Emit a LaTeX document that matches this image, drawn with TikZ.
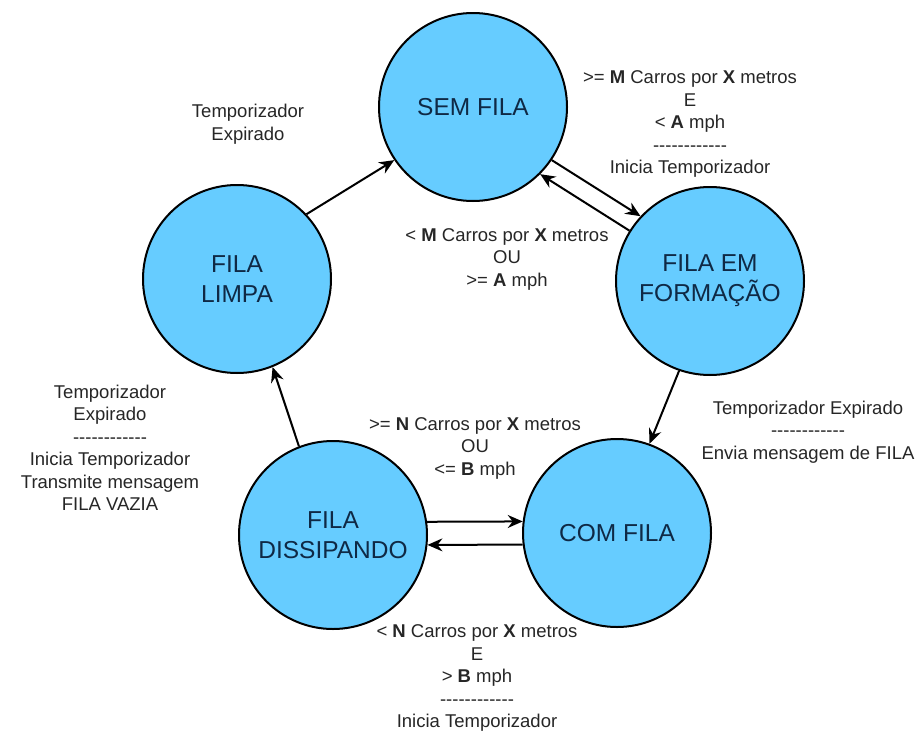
\documentclass[tikz,border=0pt]{standalone}
\usepackage{fontspec}
\setmainfont{Liberation Sans}
\usepackage{tikz}
\usetikzlibrary{arrows.meta, positioning}
\definecolor{SkyBlue}{rgb}{0.4,0.8,1.0}
\definecolor{Navy}{rgb}{0.06,0.16,0.27}
\definecolor{DarkGrey}{rgb}{0.15,0.15,0.15}
\newcommand{\sepline}{-{}-{}-{}-{}-{}-{}-{}-{}-{}-{}-{}-}
\tikzset{
  statebox/.style={circle, draw=black, line width=2pt, fill=SkyBlue,
    minimum size=188pt, inner sep=0pt, text=Navy, align=center,
    font=\fontsize{24.5}{30}\selectfont},
  cond/.style={align=center, text=DarkGrey, inner sep=0pt,
    font=\fontsize{18.5}{22.5}\selectfont},
  trans/.style={line width=2pt, -{Stealth[length=15pt,width=13pt,inset=5pt]}}
}
\begin{document}
\begin{tikzpicture}[x=1pt,y=-1pt]

    \useasboundingbox (0,0) rectangle (921,731);

    % states
    \node[statebox] (sem) at (473,107) {SEM FILA};
    \node[statebox] (formacao) at (710,281) {FILA EM\\FORMAÇÃO};
    \node[statebox] (limpa) at (237,279) {FILA\\LIMPA};
    \node[statebox] (dissipando) at (333,535) {FILA\\DISSIPANDO};
    \node[statebox] (comfila) at (617,533) {COM FILA};

    % transitions
    \draw[trans] (limpa.43) -- (sem.214);
    \draw[trans] (sem.-34) -- (formacao.137);
    \draw[trans] (formacao.148) -- (sem.-45);
    \draw[trans] (formacao.251) -- (comfila.70);
    \draw[trans] (dissipando.8) -- (comfila.173);
    \draw[trans] (comfila.187) -- (dissipando.-6);
    \draw[trans] (dissipando.111) -- (limpa.-68);

    % conditions
    \node[cond] (lbl-expira) at (248,124) {Temporizador\\Expirado};
    \node[cond] (lbl-forma) at (690,124)
        {>= \textbf{M} Carros por \textbf{X} metros\\E\\< \textbf{A} mph\\\sepline\\Inicia Temporizador};
    \node[cond] (lbl-volta) at (507,259)
        {< \textbf{M} Carros por \textbf{X} metros\\OU\\>= \textbf{A} mph};
    \node[cond] (lbl-limpa) at (110,448)
        {Temporizador\\Expirado\\\sepline\\Inicia Temporizador\\Transmite mensagem\\FILA VAZIA};
    \node[cond] (lbl-dissipa) at (475,448)
        {>= \textbf{N} Carros por \textbf{X} metros\\OU\\<= \textbf{B} mph};
    \node[cond] (lbl-fila) at (808,432)
        {Temporizador Expirado\\\sepline\\Envia mensagem de FILA};
    \node[cond] (lbl-esvazia) at (477,678)
        {< \textbf{N} Carros por \textbf{X} metros\\E\\> \textbf{B} mph\\\sepline\\Inicia Temporizador};

\end{tikzpicture}
\end{document}
